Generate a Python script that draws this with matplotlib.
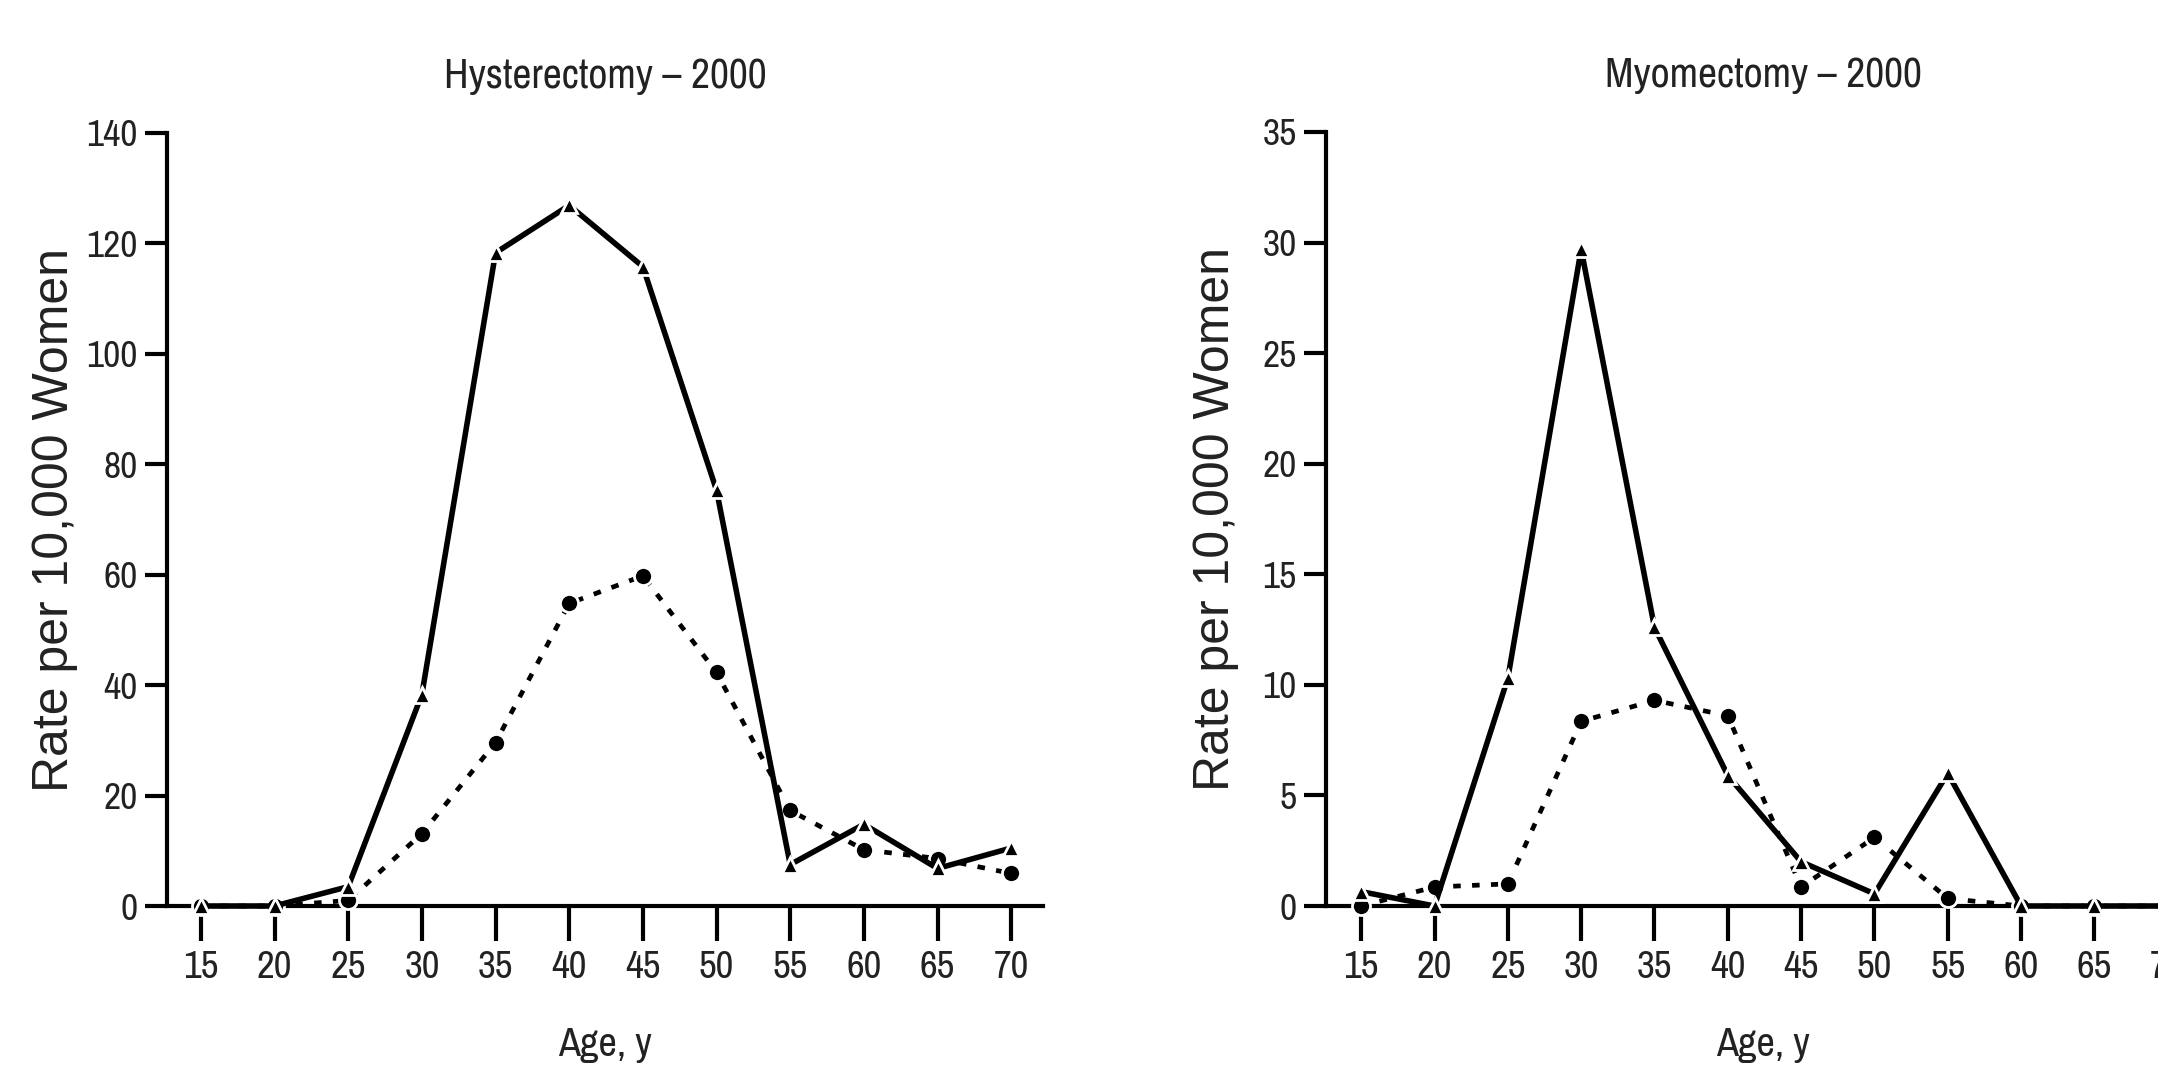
import matplotlib
matplotlib.use("Agg")
import matplotlib.pyplot as plt
from matplotlib import font_manager
from matplotlib.font_manager import FontProperties

ages = [15, 20, 25, 30, 35, 40, 45, 50, 55, 60, 65, 70]

hyst_triangle = [0, 0, 3.5, 38.3, 118.3, 126.9, 115.8, 75.3, 7.5, 14.8, 6.8, 10.5]
hyst_circle = [0, 0, 1.0, 13.1, 29.6, 54.8, 59.8, 42.3, 17.3, 10.2, 8.6, 5.9]

myo_triangle = [0.65, 0, 10.3, 29.7, 12.6, 5.9, 2.0, 0.55, 6.0, 0, 0, 0]
myo_circle = [0, 0.86, 1.0, 8.35, 9.3, 8.6, 0.86, 3.1, 0.34, 0, 0, 0]

titles = ["Hysterectomy \u2013 2000", "Myomectomy \u2013 2000"]
ylabel = "Rate per 10,000 Women"
xlabel = "Age, y"
hyst_yticks = [0, 20, 40, 60, 80, 100, 120, 140]
myo_yticks = [0, 5, 10, 15, 20, 25, 30, 35]

# look for a condensed sans font (the reference uses a narrow Helvetica)
narrow_path = None
cands = []
for f in font_manager.fontManager.ttflist:
    n = f.name.lower()
    fn = f.fname.lower()
    if f.style != "normal":
        continue
    if "bold" in fn or "italic" in fn or "oblique" in fn:
        continue
    if f.weight not in (400, "normal", "regular", "book"):
        continue
    score = None
    if "narrow" in n or "narrow" in fn:
        score = 0
    elif ("condensed" in n or "condensed" in fn or str(f.stretch) in ("condensed", "semi-condensed", "extra-condensed")) and "dejavu" not in fn:
        score = 1
    if score is not None:
        cands.append((score, f.fname))
cands.sort()
if cands:
    narrow_path = cands[0][1]

if narrow_path:
    def nfp(size):
        return FontProperties(fname=narrow_path, size=size)
    sz_xtick, sz_ytick, sz_title, sz_xlabel = 28, 27, 30, 29
else:
    def nfp(size):
        return FontProperties(family="Liberation Sans", size=size)
    sz_xtick, sz_ytick, sz_title, sz_xlabel = 24, 24, 26, 26

W, H = 2158, 1065
fig = plt.figure(figsize=(W / 100, H / 100), dpi=100)

TXT = "#222222"

def make_panel(rect, tri, circ, yticks, title, xlim, ylab_off):
    ax = fig.add_axes(rect)
    ax.plot(ages, circ, color="black", lw=3.4, linestyle=(0, (1.6, 2.4)),
            marker="o", markersize=13, markerfacecolor="black",
            markeredgecolor="white", markeredgewidth=2.0,
            clip_on=False, zorder=4)
    ax.plot(ages, tri, color="black", lw=4.0, linestyle="-",
            marker="^", markersize=12, markerfacecolor="black",
            markeredgecolor="white", markeredgewidth=2.0,
            clip_on=False, zorder=5)
    ax.set_xlim(*xlim)
    ax.set_ylim(yticks[0], yticks[-1])
    ax.set_xticks(ages)
    ax.set_yticks(yticks)
    ax.set_xticklabels([str(a) for a in ages], fontproperties=nfp(sz_xtick), color=TXT)
    ax.set_yticklabels([str(v) for v in yticks], fontproperties=nfp(sz_ytick), color=TXT)
    for s in ["top", "right"]:
        ax.spines[s].set_visible(False)
    for s in ["left", "bottom"]:
        ax.spines[s].set_linewidth(3.0)
        ax.spines[s].set_color("black")
        ax.spines[s].set_zorder(2)
    ax.tick_params(axis="x", direction="out", length=25, width=3.0, pad=7, colors="black", labelcolor=TXT)
    ax.tick_params(axis="y", direction="out", length=16, width=3.0, pad=5, colors="black", labelcolor=TXT)
    ax.set_ylabel(ylabel, fontfamily="Liberation Sans", fontsize=36, color=TXT, va="center")
    ax.yaxis.set_label_coords(-ylab_off / (rect[2] * W), 0.5)
    ax.set_xlabel(xlabel, fontproperties=nfp(sz_xlabel), color=TXT)
    ax.xaxis.set_label_coords(0.5, -(1056 - 906) / (rect[3] * H))
    ax.xaxis.label.set_va("baseline")
    ax.text(0.5, 1 + (133 - 88) / (rect[3] * H), title, transform=ax.transAxes,
            ha="center", va="baseline", fontproperties=nfp(sz_title), color=TXT)
    ax.set_facecolor("none")
    return ax

make_panel([167 / W, (H - 906) / H, 876 / W, (906 - 133) / H],
           hyst_triangle, hyst_circle, hyst_yticks, titles[0], (12.70, 72.16), 112)
make_panel([1326 / W, (H - 906) / H, 874 / W, (906 - 132) / H],
           myo_triangle, myo_circle, myo_yticks, titles[1], (12.60, 72.20), 110)

fig.savefig("out.png", dpi=100, facecolor="white")
